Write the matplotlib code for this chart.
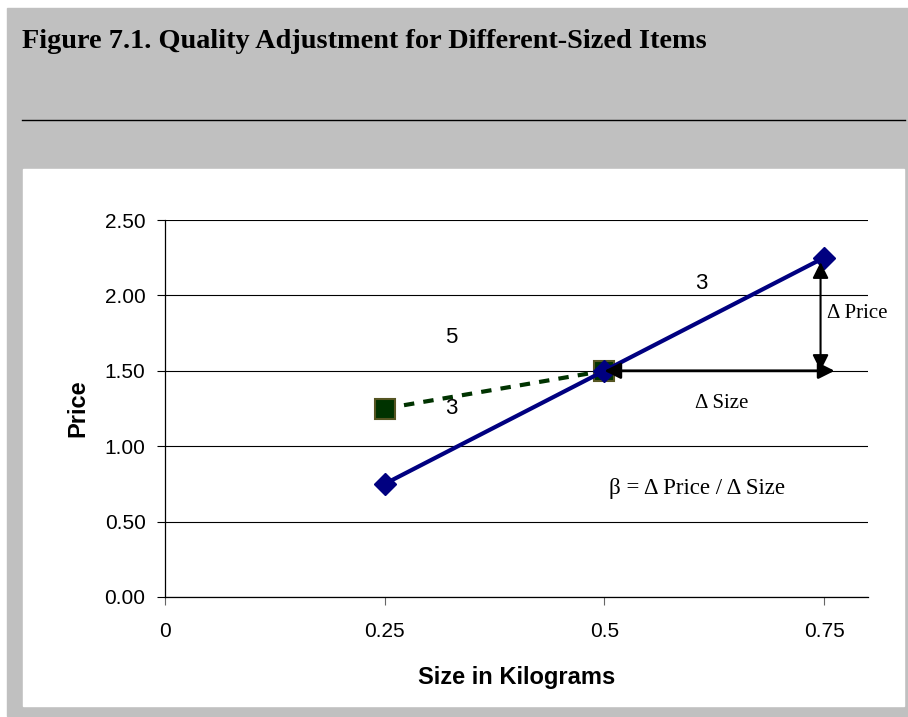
import matplotlib.pyplot as plt
from matplotlib.patches import Rectangle
from matplotlib.lines import Line2D

# data
sizes = [0.25, 0.5, 0.75]
prices = [0.75, 1.5, 2.25]
alt_sizes = [0.25, 0.5]
alt_prices = [1.25, 1.5]
x_ticks = [0, 0.25, 0.5, 0.75]
x_labels = ['0', '0.25', '0.5', '0.75']
y_ticks = [0, 0.5, 1.0, 1.5, 2.0, 2.5]

W, H = 908, 717
fig = plt.figure(figsize=(W / 100, H / 100), dpi=100)
fig.patch.set_facecolor('white')

def px(x, y, w, h):
    # pixel box (top-left origin) -> figure fraction
    return (x / W, 1 - (y + h) / H), w / W, h / H

xy, w, h = px(7, 8, 901, 708)
fig.patches.append(Rectangle(xy, w, h, transform=fig.transFigure, color='#c0c0c0', zorder=-3))
xy, w, h = px(23, 169, 881, 537)
fig.patches.append(Rectangle(xy, w, h, transform=fig.transFigure, color='white', zorder=-2))
fig.lines.append(Line2D([22 / W, 905 / W], [1 - 120 / H] * 2, transform=fig.transFigure,
                        color='black', lw=1))
fig.text(22 / W, 1 - 42 / H, 'Figure 7.1. Quality Adjustment for Different-Sized Items',
         family='Liberation Serif', weight='bold', fontsize=20.3, va='center', ha='left')

ax = fig.add_axes([165 / W, 1 - 597 / H, (868 - 165) / W, (597 - 220) / H])
ax.set_facecolor('none')
ax.set_xlim(0, 0.8)
ax.set_ylim(0, 2.5)
for s in ['top', 'right']:
    ax.spines[s].set_visible(False)
ax.spines['left'].set_linewidth(0.9)
ax.spines['bottom'].set_linewidth(0.9)
ax.set_yticks(y_ticks)
ax.set_yticklabels(['%.2f' % v for v in y_ticks])
ax.set_xticks(x_ticks)
ax.set_xticklabels(x_labels)
ax.grid(axis='y', color='black', lw=0.8)
ax.set_axisbelow(True)
ax.tick_params(axis='y', length=6, width=0.8, pad=8, labelsize=15)
ax.tick_params(axis='x', length=6, width=0.8, pad=12, labelsize=15, color='#666666')
for t in ax.get_xticklabels() + ax.get_yticklabels():
    t.set_family('Liberation Sans')

ax.set_ylabel('Price', family='Liberation Sans', weight='bold', fontsize=17, labelpad=11)
ax.set_xlabel('Size in Kilograms', family='Liberation Sans', weight='bold', fontsize=17,
              labelpad=18)

ax.plot(alt_sizes, alt_prices, color='#003300', lw=3, ls=(0, (2.5, 2.2)), marker='s',
        markersize=14, markerfacecolor='#003300', markeredgecolor='#555522',
        markeredgewidth=1.5, zorder=3, clip_on=False)
ax.plot(sizes, prices, color='#000080', lw=3, marker='D', markersize=11,
        markerfacecolor='#000080', markeredgecolor='#000080', zorder=4, clip_on=False)

# arrows for delta size and delta price
ax.annotate('', xy=(sizes[2] + 0.012, prices[1]), xytext=(sizes[1], prices[1]),
            arrowprops=dict(arrowstyle='<|-|>', color='black', lw=2, mutation_scale=24,
                            shrinkA=0, shrinkB=0), zorder=5)
ax.annotate('', xy=(sizes[2] - 0.004, prices[2] - 0.03), xytext=(sizes[2] - 0.004, prices[1]),
            arrowprops=dict(arrowstyle='<|-|>', color='black', lw=1.5, mutation_scale=24,
                            shrinkA=0, shrinkB=0), zorder=5)

ax.text(0.61, 2.08, '3', family='Liberation Sans', fontsize=16, ha='center', va='center')
ax.text(0.326, 1.72, '5', family='Liberation Sans', fontsize=16, ha='center', va='center')
ax.text(0.326, 1.25, '3', family='Liberation Sans', fontsize=16, ha='center', va='center')
ax.text(0.753, 1.88, '\u0394 Price', family='Liberation Serif', fontsize=15, ha='left', va='center')
ax.text(0.633, 1.28, '\u0394 Size', family='Liberation Serif', fontsize=15, ha='center', va='center')
ax.text(0.605, 0.72, '\u03b2 = \u0394 Price / \u0394 Size', family='Liberation Serif',
        fontsize=16.5, ha='center', va='center')

fig.savefig('out.png', dpi=100)
